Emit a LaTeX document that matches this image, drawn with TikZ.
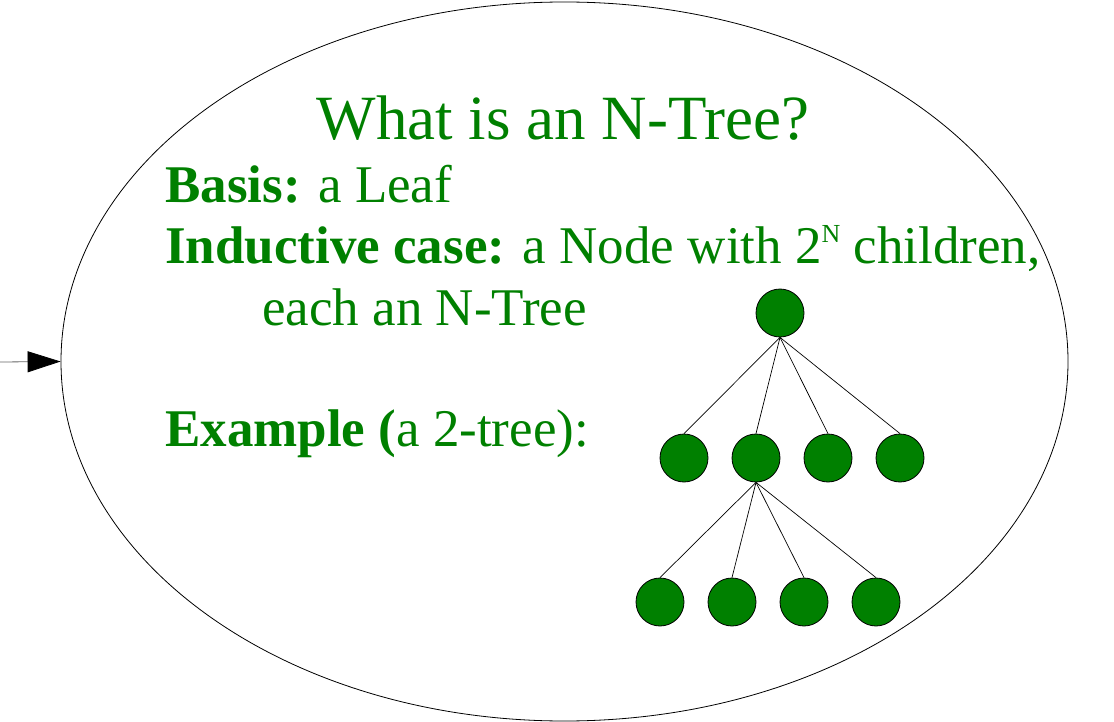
\documentclass[tikz,border=0pt]{standalone}
\usepackage{fontspec}
\setmainfont{Liberation Serif}
\usetikzlibrary{shapes.geometric,arrows.meta}
\definecolor{treegreen}{RGB}{0,128,0}
\tikzset{
  leafdot/.style={circle, draw=black, line width=0.8pt, fill=treegreen, minimum size=48pt, inner sep=0pt},
  edge/.style={draw=black, line width=0.7pt},
  txt/.style={text=treegreen, anchor=base west, inner sep=0pt},
}
\begin{document}
\begin{tikzpicture}[x=1pt, y=-1pt]
  \useasboundingbox (0,0) rectangle (1114,722);
  % outer oval and incoming arrow
  \node[ellipse, draw=black, line width=0.8pt, minimum width=1007pt, minimum height=719pt, inner sep=0pt] (oval) at (564.5,361.5) {};
  \coordinate (in) at (0,362);
  \draw[gray!80!black, line width=0.8pt, -{Triangle[length=33pt,width=21pt,fill=black,color=black]}] (in) -- (oval.west);

  % text
  \node[text=treegreen, anchor=base, inner sep=0pt, font=\fontsize{63}{63}\selectfont] (title) at (563,140) {What is an N-Tree?};
  \node[txt, font=\fontsize{53}{53}\selectfont] (basis) at (165,203) {\textbf{Basis:} a Leaf};
  \node[txt, font=\fontsize{53}{53}\selectfont] (induct) at (165,264) {\textbf{Inductive case:} a Node with 2\raisebox{21pt}{\fontsize{26}{26}\selectfont N} children,};
  \node[txt, font=\fontsize{53}{53}\selectfont] (each) at (262,325) {each an N-Tree};
  \node[txt, font=\fontsize{53}{53}\selectfont] (example) at (165,446) {\textbf{Example (}a 2-tree):};

  % the 2-tree
  \node[leafdot] (r) at (780,313) {};
  \node[leafdot] (a1) at (684,458) {};
  \node[leafdot] (a2) at (756,458) {};
  \node[leafdot] (a3) at (828,458) {};
  \node[leafdot] (a4) at (900,458) {};
  \node[leafdot] (b1) at (660,602) {};
  \node[leafdot] (b2) at (732,602) {};
  \node[leafdot] (b3) at (804,602) {};
  \node[leafdot] (b4) at (876,602) {};
  \foreach \c in {a1,a2,a3,a4} \draw[edge] (r.south) -- (\c.north);
  \foreach \c in {b1,b2,b3,b4} \draw[edge] (a2.south) -- (\c.north);
\end{tikzpicture}
\end{document}
